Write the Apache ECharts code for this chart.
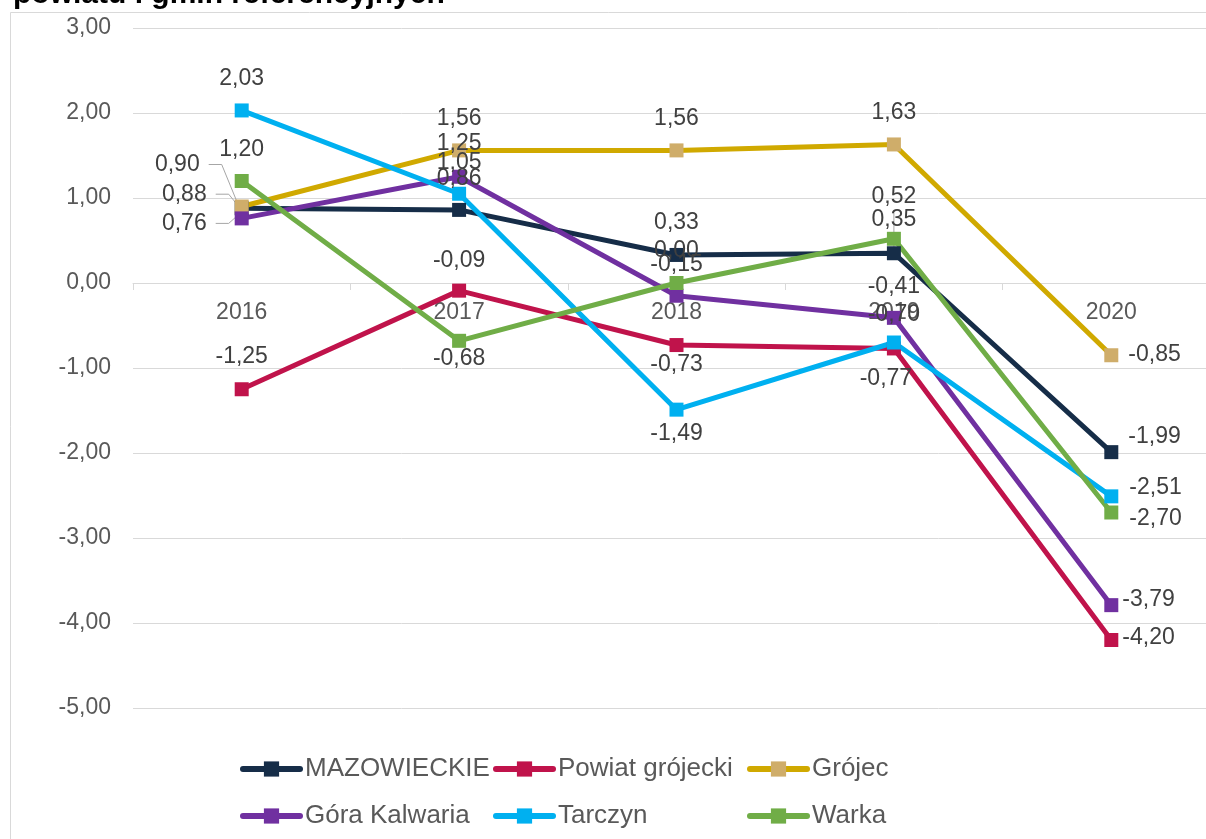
<!DOCTYPE html>
<html>
<head>
<meta charset="utf-8">
<script src="https://cdn.jsdelivr.net/npm/echarts@6/dist/echarts.min.js"></script>
<style>
  html, body { margin: 0; padding: 0; background: #ffffff; }
  #chart { width: 1206px; height: 839px; }
</style>
</head>
<body>
<div id="chart"></div>
<script>
// Categories and series values
const years = ['2016', '2017', '2018', '2019', '2020'];
const mazowieckie    = [0.88, 0.86, 0.33, 0.35, -1.99];
const powiatGrojecki = [-1.25, -0.09, -0.73, -0.77, -4.20];
const grojec         = [0.90, 1.56, 1.56, 1.63, -0.85];
const goraKalwaria   = [0.76, 1.25, -0.15, -0.41, -3.79];
const tarczyn        = [2.03, 1.05, -1.49, -0.70, -2.51];
const warka          = [1.20, -0.68, 0.00, 0.52, -2.70];
const titleText = 'powiatu i gmin referencyjnych';
const yMin = -5, yMax = 3, yStep = 1;

// Value-label placement per point: [dx, dy, align, guide]
const placeMaz    = [[-35, -14, 'right', 'side'], [0, -31], [0, -32], [0, -34], [17, -15, 'left']];
const placePowiat = [[0, -33], [0, -30], [0, 20], [-8, 30], [11, -2, 'left']];
const placeGrojec = [[-42, -42, 'right', 'side'], [0, -32], [0, -32], [0, -32], [17, -1, 'left']];
const placeGora   = [[-35, 5, 'right', 'side'], [0, -33], [0, -31], [0, -31], [11, -5, 'left']];
const placeTarcz  = [[0, -32], [0, -31], [0, 24], [0, -28], [18, -9, 'left']];
const placeWarka  = [[0, -31], [0, 18], [0, -32], [0, -42, 'center', 'down'], [18, 6, 'left']];

const FONT = '"Liberation Sans", Arial, Helvetica, sans-serif';
const fmt = v => Number(v).toFixed(2).replace('.', ',');

const seriesDefs = [
  { name: 'MAZOWIECKIE',     data: mazowieckie,    line: '#162d48', marker: '#162d48', place: placeMaz },
  { name: 'Powiat grójecki', data: powiatGrojecki, line: '#c0134b', marker: '#c0134b', place: placePowiat },
  { name: 'Grójec',          data: grojec,         line: '#d0a900', marker: '#cfad6a', place: placeGrojec },
  { name: 'Góra Kalwaria',   data: goraKalwaria,   line: '#7030a0', marker: '#7030a0', place: placeGora },
  { name: 'Tarczyn',         data: tarczyn,        line: '#00b0f0', marker: '#00b0f0', place: placeTarcz },
  { name: 'Warka',           data: warka,          line: '#70ad47', marker: '#70ad47', place: placeWarka }
];

const GRID = { left: 133, top: 28, width: 1087, height: 680 };

const chart = echarts.init(document.getElementById('chart'), null, { renderer: 'canvas' });

const legendBase = {
  orient: 'vertical',
  top: 756,
  padding: 0,
  itemWidth: 57,
  itemHeight: 19,
  itemGap: 21,
  selectedMode: false,
  lineStyle: { width: 6, cap: 'round' },
  textStyle: { color: '#595959', fontSize: 26, fontFamily: FONT }
};

const option = {
  animation: false,
  backgroundColor: '#ffffff',
  grid: Object.assign({ containLabel: false, outerBoundsMode: 'none' }, GRID),
  xAxis: {
    type: 'category',
    data: years,
    boundaryGap: true,
    position: 'bottom',
    // category axis sits on the zero line of the value axis
    offset: -GRID.height * (0 - yMin) / (yMax - yMin),
    axisLine: { onZero: false, lineStyle: { color: '#d9d9d9', width: 1 } },
    axisTick: { show: true, length: 7, lineStyle: { color: '#d9d9d9' } },
    axisLabel: { color: '#595959', fontSize: 23, fontFamily: FONT, margin: 18 },
    splitLine: { show: false }
  },
  yAxis: {
    type: 'value',
    min: yMin,
    max: yMax,
    interval: yStep,
    axisLine: { show: false },
    axisTick: { show: false },
    axisLabel: { color: '#595959', fontSize: 23, fontFamily: FONT, margin: 22, formatter: v => fmt(v) },
    splitLine: { lineStyle: { color: '#d9d9d9', width: 1 } }
  },
  legend: [
    Object.assign({}, legendBase, { left: 240, data: ['MAZOWIECKIE', 'Góra Kalwaria'] }),
    Object.assign({}, legendBase, { left: 493, data: ['Powiat grójecki', 'Tarczyn'] }),
    Object.assign({}, legendBase, { left: 747, data: ['Grójec', 'Warka'] })
  ],
  graphic: [
    {
      id: 'frame', type: 'polyline', silent: true, z: 0,
      shape: { points: [[10.5, 900], [10.5, 12.5], [1300, 12.5]] },
      style: { stroke: '#d9d9d9', lineWidth: 1, fill: null }
    },
    {
      id: 'title', type: 'text', silent: true, left: 13, top: -20,
      style: { text: titleText, font: 'bold 30px ' + FONT, fill: '#000000' }
    }
  ],
  series: seriesDefs.map(s => ({
    type: 'line',
    name: s.name,
    symbol: 'rect',
    symbolSize: 14,
    lineStyle: { color: s.line, width: 5 },
    itemStyle: { color: s.marker },
    emphasis: { disabled: true },
    label: {
      show: true,
      position: 'inside',
      color: '#404040',
      fontSize: 23,
      fontFamily: FONT,
      verticalAlign: 'middle',
      formatter: p => fmt(p.value)
    },
    data: s.data.map((v, i) => ({
      value: v,
      label: { offset: [s.place[i][0], s.place[i][1]], align: s.place[i][2] || 'center' }
    }))
  }))
};

chart.setOption(option);

// Leader lines from moved labels back to their points
const guides = [];
seriesDefs.forEach((s, si) => {
  s.place.forEach((p, i) => {
    if (!p[3]) return;
    const pt = chart.convertToPixel({ seriesIndex: si }, [i, s.data[i]]);
    let pts;
    if (p[3] === 'side') {
      const edge = pt[0] + p[0];
      const y = pt[1] + p[1];
      pts = [[edge + 9, y], [edge + 22, y], [pt[0] - 4, pt[1] - 3]];
    } else {
      const x = pt[0] + p[0];
      pts = [[x, pt[1] + p[1] + 16], [x, pt[1] + 13]];
    }
    guides.push({
      id: 'guide' + si + '_' + i, type: 'polyline', silent: true, z: 1,
      shape: { points: pts },
      style: { stroke: '#a6a6a6', lineWidth: 1, fill: null }
    });
  });
});
chart.setOption({ graphic: guides });
</script>
</body>
</html>
